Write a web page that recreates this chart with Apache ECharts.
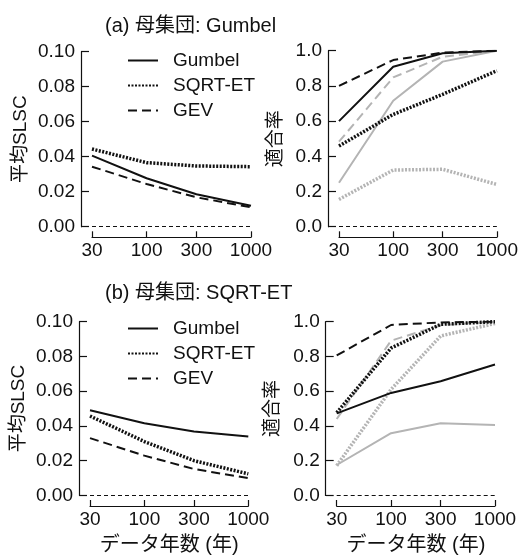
<!DOCTYPE html>
<html>
<head>
<meta charset="utf-8">
<script src="https://cdn.jsdelivr.net/npm/echarts@6/dist/echarts.min.js"></script>
<style>
  html, body { margin: 0; padding: 0; background: #fff; }
  #main { width: 521px; height: 556px; }
</style>
</head>
<body>
<div id="main"></div>
<script>
// データ年数
const years = [30, 100, 300, 1000];

// (a) 母集団: Gumbel
const slscA_gumbel = [0.0406, 0.0277, 0.0185, 0.0120];
const slscA_sqrt   = [0.0444, 0.0366, 0.0347, 0.0343];
const slscA_gev    = [0.0343, 0.0244, 0.0168, 0.0111];
const rateA_gumbel = [0.600, 0.909, 0.985, 1.000];
const rateA_sqrt   = [0.458, 0.638, 0.752, 0.886];
const rateA_gev    = [0.800, 0.947, 0.989, 1.000];
const rateA_gumbel2 = [0.250, 0.716, 0.938, 1.000];
const rateA_sqrt2   = [0.155, 0.322, 0.326, 0.240];
const rateA_gev2    = [0.483, 0.848, 0.966, 1.000];

// (b) 母集団: SQRT-ET
const slscB_gumbel = [0.0490, 0.0415, 0.0368, 0.0339];
const slscB_sqrt   = [0.0457, 0.0310, 0.0200, 0.0124];
const slscB_gev    = [0.0330, 0.0229, 0.0152, 0.0099];
const rateB_gumbel = [0.472, 0.590, 0.657, 0.754];
const rateB_sqrt   = [0.476, 0.848, 0.985, 1.000];
const rateB_gev    = [0.806, 0.981, 0.996, 1.000];
const rateB_gumbel2 = [0.175, 0.358, 0.415, 0.406];
const rateB_sqrt2   = [0.171, 0.610, 0.918, 0.990];
const rateB_gev2    = [0.440, 0.891, 0.980, 1.000];

const slscTicks = [0, 0.02, 0.04, 0.06, 0.08, 0.10];
const rateTicks = [0, 0.2, 0.4, 0.6, 0.8, 1.0];

const FONT = '"Liberation Sans", Arial, "Noto Sans CJK JP", sans-serif';
const BLACK = '#111';
const GREY = '#b4b4b4';

// 線種
const styles = {
  solid:  { width: 2,   type: 'solid' },
  dotted: { width: 3.5, type: [2, 1.5] },
  dashed: { width: 2,   type: [9, 5] }
};

function pairs(vals) {
  return years.map((y, i) => [y, vals[i]]);
}

function line(name, vals, idx, kind, color, zeroLine) {
  const s = {
    name: name,
    type: 'line',
    xAxisIndex: idx,
    yAxisIndex: idx,
    data: pairs(vals),
    symbol: 'none',
    lineStyle: { color: color, width: styles[kind].width, type: styles[kind].type },
    itemStyle: { color: color },
    z: color === BLACK ? 3 : 2
  };
  if (zeroLine) {
    // 0 の破線
    s.markLine = {
      silent: true,
      symbol: 'none',
      label: { show: false },
      lineStyle: { color: BLACK, width: 1, type: [4, 3] },
      data: [{ yAxis: 0 }]
    };
  }
  return s;
}

const grids = [
  { left: 92,  top: 51.7,  width: 159,   height: 175 },
  { left: 339, top: 50.7,  width: 158.7, height: 176 },
  { left: 90,  top: 321.7, width: 158.3, height: 175 },
  { left: 336.7, top: 321.7, width: 158.3, height: 175 }
];

function xAxis(idx, withName) {
  return {
    type: 'log',
    gridIndex: idx,
    min: 30,
    max: 1000,
    offset: 10.6,
    name: withName ? 'データ年数 (年)' : '',
    nameLocation: 'middle',
    nameGap: 29,
    nameTextStyle: { fontFamily: FONT, fontSize: 20, color: BLACK },
    axisLine: { show: true, onZero: false, lineStyle: { color: BLACK, width: 1.2 } },
    axisTick: { show: true, inside: true, length: 6, customValues: years, lineStyle: { color: BLACK, width: 1.2 } },
    axisLabel: {
      customValues: years, margin: 4, fontFamily: FONT, fontSize: 19, color: BLACK,
      formatter: v => String(v)
    },
    splitLine: { show: false },
    minorTick: { show: false }
  };
}

function yAxis(idx, name, ticks, max, digits, gap) {
  return {
    type: 'value',
    gridIndex: idx,
    min: 0,
    max: max,
    interval: ticks[1],
    offset: 11,
    name: name,
    nameLocation: 'middle',
    nameGap: gap,
    nameTextStyle: { fontFamily: FONT, fontSize: 19, color: BLACK },
    axisLine: { show: true, onZero: false, lineStyle: { color: BLACK, width: 1.2 } },
    axisTick: { show: true, inside: true, length: 8, lineStyle: { color: BLACK, width: 1.2 } },
    axisLabel: {
      margin: 6, fontFamily: FONT, fontSize: 19, color: BLACK,
      formatter: v => v.toFixed(digits)
    },
    splitLine: { show: false }
  };
}

function legend(top) {
  return {
    orient: 'vertical',
    left: 127,
    top: top,
    padding: 0,
    itemWidth: 30,
    itemHeight: 14,
    itemGap: 6,
    selectedMode: false,
    itemStyle: { opacity: 0 },
    data: ['Gumbel', 'SQRT-ET', 'GEV'],
    textStyle: { fontFamily: FONT, fontSize: 19, color: BLACK, padding: [0, 0, 0, 10] }
  };
}

const chart = echarts.init(document.getElementById('main'), null, { renderer: 'canvas' });
chart.setOption({
  backgroundColor: '#fff',
  animation: false,
  title: [
    { text: '(a) 母集団: Gumbel', left: 100, top: 11,
      textStyle: { fontFamily: FONT, fontSize: 20, fontWeight: 'normal', color: BLACK } },
    { text: '(b) 母集団: SQRT-ET', left: 100, top: 278,
      textStyle: { fontFamily: FONT, fontSize: 20, fontWeight: 'normal', color: BLACK } }
  ],
  legend: [legend(51), legend(319)],
  grid: grids,
  xAxis: [xAxis(0, false), xAxis(1, false), xAxis(2, true), xAxis(3, true)],
  yAxis: [
    yAxis(0, '平均SLSC', slscTicks, 0.1, 2, 51),
    yAxis(1, '適合率', rateTicks, 1, 1, 43),
    yAxis(2, '平均SLSC', slscTicks, 0.1, 2, 51),
    yAxis(3, '適合率', rateTicks, 1, 1, 43)
  ],
  series: [
    // (a) 平均SLSC
    line('Gumbel',  slscA_gumbel, 0, 'solid',  BLACK, true),
    line('SQRT-ET', slscA_sqrt,   0, 'dotted', BLACK),
    line('GEV',     slscA_gev,    0, 'dashed', BLACK),
    // (a) 適合率
    line('Gumbel-2',  rateA_gumbel2, 1, 'solid',  GREY, true),
    line('SQRT-ET-2', rateA_sqrt2,   1, 'dotted', GREY),
    line('GEV-2',     rateA_gev2,    1, 'dashed', GREY),
    line('Gumbel',  rateA_gumbel, 1, 'solid',  BLACK),
    line('SQRT-ET', rateA_sqrt,   1, 'dotted', BLACK),
    line('GEV',     rateA_gev,    1, 'dashed', BLACK),
    // (b) 平均SLSC
    line('Gumbel',  slscB_gumbel, 2, 'solid',  BLACK, true),
    line('SQRT-ET', slscB_sqrt,   2, 'dotted', BLACK),
    line('GEV',     slscB_gev,    2, 'dashed', BLACK),
    // (b) 適合率
    line('Gumbel-2',  rateB_gumbel2, 3, 'solid',  GREY, true),
    line('SQRT-ET-2', rateB_sqrt2,   3, 'dotted', GREY),
    line('GEV-2',     rateB_gev2,    3, 'dashed', GREY),
    line('Gumbel',  rateB_gumbel, 3, 'solid',  BLACK),
    line('SQRT-ET', rateB_sqrt,   3, 'dotted', BLACK),
    line('GEV',     rateB_gev,    3, 'dashed', BLACK)
  ]
});
</script>
</body>
</html>
